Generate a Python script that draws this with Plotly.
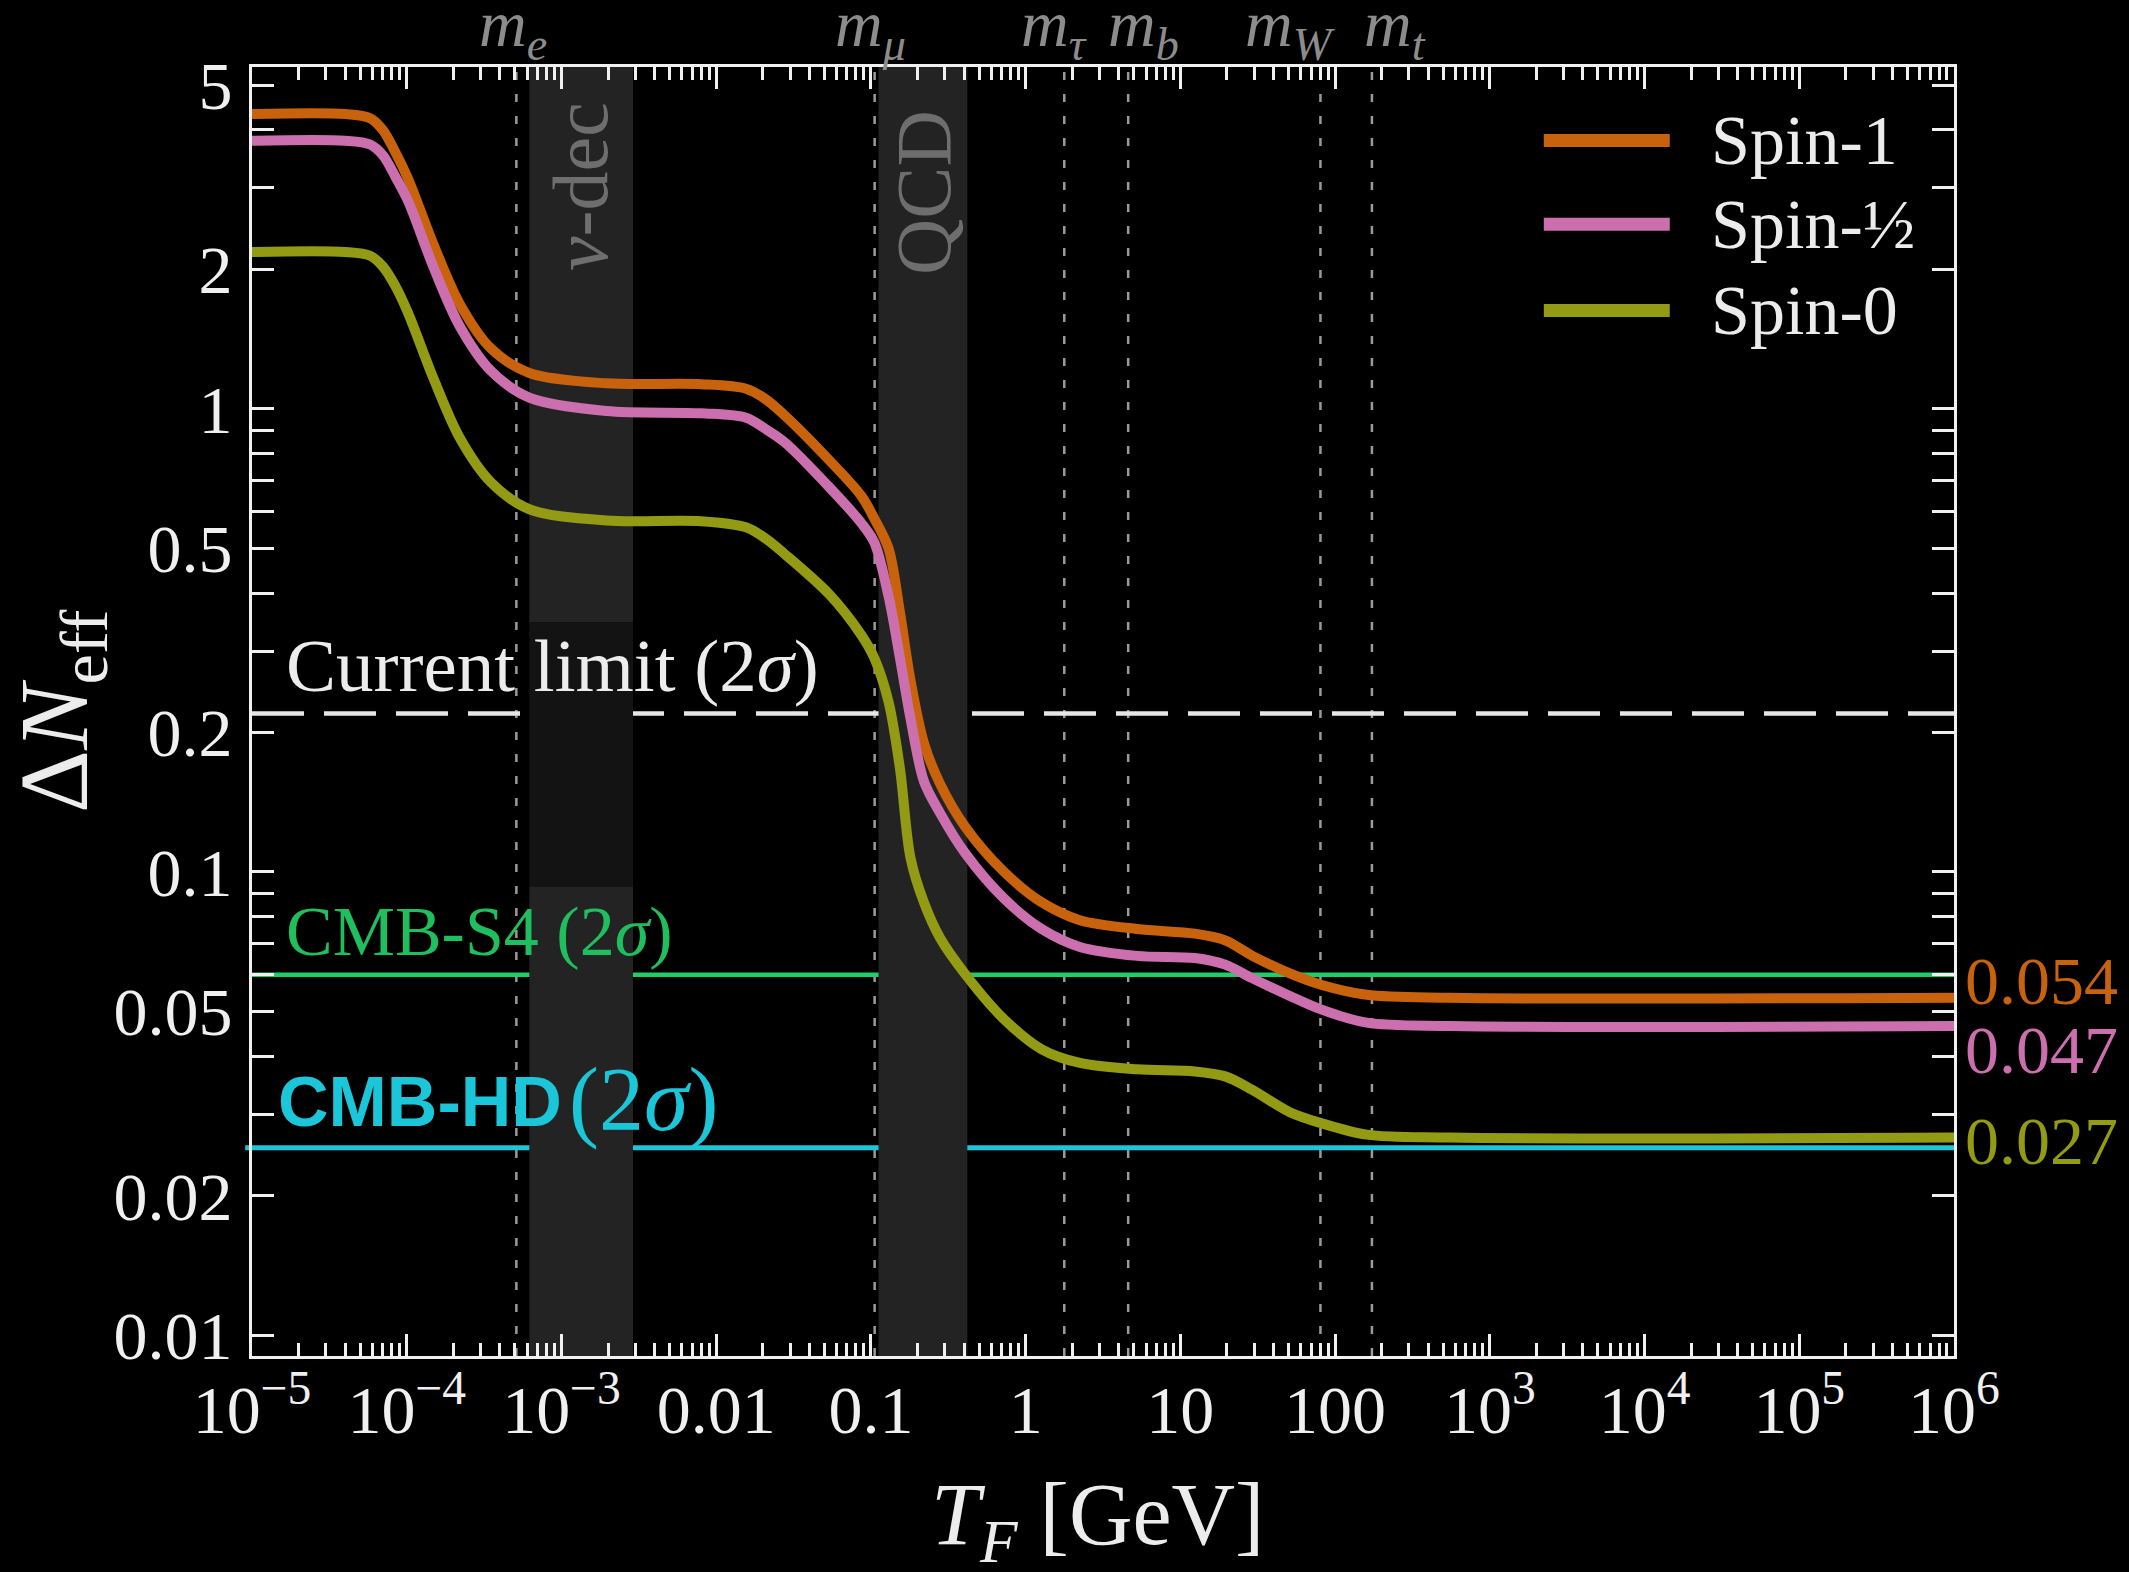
import math
import plotly.graph_objects as go

# ---------------- data ----------------
T_F = [1e-5, 4e-5, 5.8e-5, 7e-5, 8.45e-5, 1.02e-4, 1.5e-4, 2.2e-4, 3.5e-4, 6.2e-4, 1.95e-3, 8e-3,
       0.0156, 0.0208, 0.0277, 0.0537, 0.0866, 0.105, 0.13, 0.154, 0.18, 0.22, 0.28,
       0.405, 0.716, 1.27, 2.24, 5.26, 12.4, 19.5, 29, 51, 81, 160, 555, 1e6]

spin1 = [4.33, 4.33, 4.24, 4.0, 3.58, 3.14, 2.25, 1.685, 1.35, 1.195, 1.135, 1.13,
         1.105, 1.05, 0.968, 0.775, 0.649, 0.58, 0.50, 0.364, 0.26, 0.19, 0.155,
         0.1255, 0.1005, 0.086, 0.0787, 0.0753, 0.0736, 0.0712, 0.066, 0.0604, 0.0571, 0.0543, 0.0535, 0.0535]

spin_half = [3.79, 3.79, 3.72, 3.53, 3.17, 2.81, 2.01, 1.508, 1.208, 1.057, 0.989, 0.978,
             0.957, 0.905, 0.847, 0.678, 0.567, 0.515, 0.394, 0.29, 0.215, 0.157, 0.134,
             0.11, 0.088, 0.0753, 0.0689, 0.0659, 0.0652, 0.0631, 0.059, 0.054, 0.0505, 0.0473, 0.0465, 0.0465]

spin0 = [2.18, 2.18, 2.14, 2.03, 1.84, 1.61, 1.156, 0.866, 0.694, 0.607, 0.574, 0.572,
         0.555, 0.525, 0.486, 0.398, 0.325, 0.29, 0.233, 0.1675, 0.1075, 0.086, 0.072,
         0.0603, 0.0483, 0.0414, 0.0387, 0.0375, 0.0371, 0.0362, 0.0339, 0.0303, 0.0287, 0.0271, 0.0267, 0.0267]

series_names = ["Spin-1", "Spin-½", "Spin-0"]
series_values = [spin1, spin_half, spin0]
series_colors = ["#c8620c", "#cc6fae", "#939b14"]
asymptote_labels = ["0.054", "0.047", "0.027"]

current_limit = 0.22
cmb_s4 = 0.06
cmb_hd = 0.0254

mass_names = ["<i>m</i><sub><i>e</i></sub>", "<i>m</i><sub><i>μ</i></sub>", "<i>m</i><sub><i>τ</i></sub>",
              "<i>m</i><sub><i>b</i></sub>", "<i>m</i><sub><i>W</i></sub>", "<i>m</i><sub><i>t</i></sub>"]
mass_values = [5.11e-4, 0.1057, 1.777, 4.6, 80.4, 173.0]

nu_dec_band = [6.2e-4, 2.9e-3]
qcd_band = [0.112, 0.42]

x_tickvals = [1e-5, 1e-4, 1e-3, 1e-2, 1e-1, 1, 10, 100, 1e3, 1e4, 1e5, 1e6]
x_ticktext = ["10<sup>−5</sup>", "10<sup>−4</sup>", "10<sup>−3</sup>", "0.01", "0.1", "1", "10", "100",
              "10<sup>3</sup>", "10<sup>4</sup>", "10<sup>5</sup>", "10<sup>6</sup>"]
y_tickvals = [0.01, 0.02, 0.05, 0.1, 0.2, 0.5, 1, 2, 5]
y_ticktext = ["0.01", "0.02", "0.05", "0.1", "0.2", "0.5", "1", "2", "5"]

x_minor = [m * 10.0 ** e for e in range(-5, 6) for m in range(2, 10)]
y_minor = [m * 10.0 ** e for e in range(-2, 1) for m in range(1, 10) if m not in (1, 2, 5)]

# ---------------- layout-only positions (label placement) ----------------
mass_label_x = [4.86e-4, 0.0989, 1.53, 5.75, 51.3, 245.0]   # where each mass label is centred
asymptote_label_y = [0.0583, 0.0412, 0.0263]
leg_y = [0.943, 0.878, 0.811]

# ---------------- figure ----------------
SERIF = "Liberation Serif"
WHITE = "#ececec"
fig = go.Figure()

for name, vals, col in zip(series_names, series_values, series_colors):
    fig.add_trace(go.Scatter(x=T_F, y=vals, mode="lines", name=name,
                             line=dict(color=col, width=10, shape="spline", smoothing=0.9),
                             showlegend=False, hoverinfo="x+y+name"))

shapes = []
band_col = "#232323"
shapes.append(dict(type="rect", xref="x", yref="y", x0=qcd_band[0], x1=qcd_band[1], y0=0.005, y1=10,
                   fillcolor=band_col, line=dict(width=0), layer="below"))
shapes.append(dict(type="rect", xref="x", yref="y", x0=nu_dec_band[0], x1=nu_dec_band[1], y0=0.346, y1=10,
                   fillcolor=band_col, line=dict(width=0), layer="below"))
shapes.append(dict(type="rect", xref="x", yref="y", x0=nu_dec_band[0], x1=nu_dec_band[1], y0=0.093, y1=0.346,
                   fillcolor="#131313", line=dict(width=0), layer="below"))
shapes.append(dict(type="rect", xref="x", yref="y", x0=nu_dec_band[0], x1=nu_dec_band[1], y0=0.005, y1=0.093,
                   fillcolor=band_col, line=dict(width=0), layer="below"))
for mv in mass_values:
    shapes.append(dict(type="line", xref="x", yref="paper", x0=mv, x1=mv, y0=0, y1=1,
                       line=dict(color="#9a9a9a", width=2.5, dash="8px,14px"), layer="below"))
shapes.append(dict(type="line", xref="paper", yref="y", x0=0, x1=1, y0=current_limit, y1=current_limit,
                   line=dict(color="#e6e6e6", width=4.5, dash="52px,20px"), layer="below"))
shapes.append(dict(type="line", xref="paper", yref="y", x0=0, x1=1, y0=cmb_s4, y1=cmb_s4,
                   line=dict(color="#22cc66", width=4.5), layer="below"))
shapes.append(dict(type="line", xref="paper", yref="y", x0=-0.004, x1=1, y0=cmb_hd, y1=cmb_hd,
                   line=dict(color="#1ac6d8", width=5), layer="below"))

# manual legend (long line samples like the reference)
for name, col, ly in zip(series_names, series_colors, leg_y):
    shapes.append(dict(type="line", xref="paper", yref="paper", x0=0.759, x1=0.833, y0=ly, y1=ly,
                       line=dict(color=col, width=13)))

annotations = []
for name, ly in zip(series_names, leg_y):
    annotations.append(dict(text=name, xref="paper", yref="paper", x=0.856, y=ly, xanchor="left",
                            yanchor="middle", showarrow=False,
                            font=dict(family=SERIF, size=70, color=WHITE)))

for mn, mx in zip(mass_names, mass_label_x):
    annotations.append(dict(text=mn, xref="x", yref="paper", x=math.log10(mx), y=0.996,
                            xanchor="center", yanchor="bottom", showarrow=False,
                            font=dict(family=SERIF, size=66, color="#8c8c8c")))

annotations.append(dict(text="<i>ν</i>-dec", xref="x", yref="paper",
                        x=(math.log10(nu_dec_band[0]) + math.log10(nu_dec_band[1])) / 2, y=0.907,
                        textangle=-90, showarrow=False, xanchor="center", yanchor="middle",
                        font=dict(family=SERIF, size=78, color="#6e6e6e")))
annotations.append(dict(text="QCD", xref="x", yref="paper",
                        x=(math.log10(qcd_band[0]) + math.log10(qcd_band[1])) / 2, y=0.903,
                        textangle=-90, showarrow=False, xanchor="center", yanchor="middle",
                        font=dict(family=SERIF, size=78, color="#6e6e6e")))

annotations.append(dict(text="Current limit (2<i>σ</i>)", xref="paper", yref="y", x=0.019,
                        y=math.log10(0.279), xanchor="left", yanchor="middle", showarrow=False,
                        font=dict(family=SERIF, size=75, color=WHITE)))
annotations.append(dict(text="CMB-S4 (2<i>σ</i>)", xref="paper", yref="y", x=0.019,
                        y=math.log10(0.0744), xanchor="left", yanchor="middle", showarrow=False,
                        font=dict(family=SERIF, size=70, color="#1fbf5f")))
annotations.append(dict(text="<b>CMB-HD</b>", xref="paper", yref="y", x=0.014,
                        y=math.log10(0.0318), xanchor="left", yanchor="middle", showarrow=False,
                        font=dict(family="Liberation Sans", size=70, color="#1ac6d8")))
annotations.append(dict(text="(2<i>σ</i>)", xref="paper", yref="y", x=0.185,
                        y=math.log10(0.0322), xanchor="left", yanchor="middle", showarrow=False,
                        font=dict(family=SERIF, size=90, color="#1ac6d8")))

for lab, ly, col in zip(asymptote_labels, asymptote_label_y, series_colors):
    annotations.append(dict(text=lab, xref="paper", yref="y", x=1.0055, y=math.log10(ly),
                            xanchor="left", yanchor="middle", showarrow=False,
                            font=dict(family=SERIF, size=68, color=col)))

annotations.append(dict(text="Δ<i>N</i><sub>eff</sub>", xref="paper", yref="paper", x=-0.112, y=0.5,
                        textangle=-90, showarrow=False, xanchor="center", yanchor="middle",
                        font=dict(family=SERIF, size=98, color=WHITE)))
annotations.append(dict(text="<i>T</i><sub><i>F</i></sub> [GeV]", xref="paper", yref="paper", x=0.4965,
                        y=-0.128, showarrow=False, xanchor="center", yanchor="middle",
                        font=dict(family=SERIF, size=88, color=WHITE)))

axis_common = dict(type="log", showgrid=False, zeroline=False, showline=True, linecolor="#f0f0f0",
                   linewidth=3, mirror="allticks", ticks="inside", tickcolor="#f0f0f0", tickwidth=3,
                   ticklen=22, tickfont=dict(family=SERIF, size=68, color="#f0f0f0"))

fig.update_layout(
    width=2129, height=1572,
    paper_bgcolor="black", plot_bgcolor="black",
    margin=dict(l=252, r=175, t=67, b=216),
    shapes=shapes, annotations=annotations,
    xaxis=dict(**axis_common, range=[-5, 6], tickmode="array", tickvals=x_tickvals, ticktext=x_ticktext,
               ticklabelstandoff=-8,
               minor=dict(tickmode="array", tickvals=x_minor, ticks="inside", ticklen=13, tickwidth=2.5,
                          tickcolor="#f0f0f0", showgrid=False)),
    yaxis=dict(**axis_common, range=[-2.045, 0.738], tickmode="array", tickvals=y_tickvals, ticktext=y_ticktext,
               ticklabelstandoff=3,
               minor=dict(tickmode="array", tickvals=y_minor, ticks="inside", ticklen=22, tickwidth=2.5,
                          tickcolor="#f0f0f0", showgrid=False)),
    showlegend=False,
)

fig.write_html("out.html", config={"displayModeBar": False},
               post_script="document.body.style.margin='0';document.body.style.background='black';")
